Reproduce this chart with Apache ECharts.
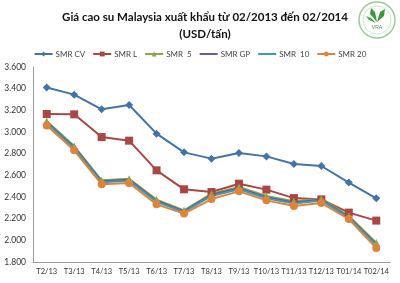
<!DOCTYPE html>
<html><head><meta charset="utf-8">
<script src="https://cdn.jsdelivr.net/npm/echarts@6/dist/echarts.min.js"></script>
<style>html,body{margin:0;padding:0;background:#fff}#c{width:400px;height:283px}</style>
</head><body><div id="c"></div>
<script>
const categories = ['T2/13','T3/13','T4/13','T5/13','T6/13','T7/13','T8/13','T9/13','T10/13','T11/13','T12/13','T01/14','T02/14'];
const smrCV = [3410,3345,3209,3249,2985,2812,2754,2806,2775,2704,2686,2533,2388];
const smrL  = [3166,3163,2953,2920,2646,2471,2446,2523,2468,2390,2378,2256,2182];
const smr5  = [3101,2870,2554,2569,2376,2277,2431,2492,2409,2360,2385,2224,1979];
const smrGP = [3090,2860,2545,2560,2365,2270,2420,2482,2398,2350,2376,2215,1965];
const smr10 = [3080,2850,2535,2550,2355,2262,2410,2472,2388,2340,2368,2208,1955];
const smr20 = [3061,2831,2517,2529,2332,2247,2381,2452,2369,2317,2344,2197,1929];
const yTicks = {min:1800, max:3600, interval:200};

const chart = echarts.init(document.getElementById('c'));
function s(name, data, color, symbol, size){
  return {name, type:'line', data, symbol, symbolSize:size, color,
    lineStyle:{width:2,color}, itemStyle:{color}, animation:false};
}
chart.setOption({
  animation:false,
  title:{text:'Giá cao su Malaysia xuất khẩu từ 02/2013 đến 02/2014\n(USD/tấn)',
    left:200, top:4, textAlign:'center',
    textStyle:{fontFamily:'Lato',fontSize:11.5,fontWeight:'bold',color:'#111',lineHeight:17}},
  legend:{top:45, left:'center', itemWidth:18, itemHeight:6, itemGap:7,
    textStyle:{fontFamily:'Lato',fontSize:8,color:'#444',padding:[0,0,0,-2]}},
  grid:{left:33, right:10, top:67, bottom:21},
  xAxis:{type:'category', data:categories, boundaryGap:true,
    axisLine:{lineStyle:{color:'#999'}}, axisTick:{show:false},
    axisLabel:{fontFamily:'Lato',fontSize:7.5,color:'#333',interval:0,margin:6}},
  yAxis:{type:'value', min:yTicks.min, max:yTicks.max, interval:yTicks.interval,
    axisLine:{show:true,lineStyle:{color:'#999'}}, axisTick:{show:false}, splitLine:{show:false},
    axisLabel:{fontFamily:'Lato',fontSize:8.5,color:'#333',margin:7,
      formatter:v=>(v/1000).toFixed(3)}},
  series:[
    s('SMR CV', smrCV, '#4572A7', 'diamond', 8),
    s('SMR L', smrL, '#AA4643', 'rect', 8),
    s('SMR  5', smr5, '#89A54E', 'triangle', 7),
    s('SMR GP', smrGP, '#71588F', 'path://M0,0L10,10M10,0L0,10', 6),
    s('SMR  10', smr10, '#4198AF', 'path://M5,0L5,10M0,5L10,5', 6),
    s('SMR 20', smr20, '#DB843D', 'circle', 8)
  ],
  graphic:[
    {type:'circle', shape:{cx:377,cy:20,r:18}, style:{fill:'#fff',stroke:'#9cc89c',lineWidth:1.5}},
    {type:'circle', shape:{cx:377,cy:20,r:14}, style:{fill:'none',stroke:'#cfe5cf',lineWidth:1}},
    {type:'polygon', shape:{points:[[377,22],[370,14],[371,8],[375,12]]}, style:{fill:'#3a9a3a'}},
    {type:'polygon', shape:{points:[[377,22],[380,12],[385,9],[384,16]]}, style:{fill:'#3a9a3a'}},
    {type:'polygon', shape:{points:[[376,23],[369,20],[366,16],[371,18]]}, style:{fill:'#4aa84a'}},
    {type:'text', style:{text:'VRA', x:377, y:25, align:'center', fontSize:5, fill:'#5a8a5a'}}
  ]
});
</script></body></html>
